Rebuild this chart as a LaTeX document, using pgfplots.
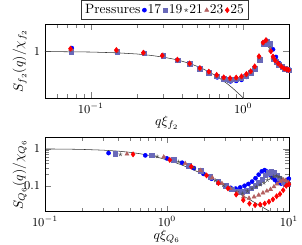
\documentclass[border=0pt]{standalone}
\usepackage{pgfplots}
\pgfplotsset{compat=1.18}
\definecolor{c17}{RGB}{0,0,255}
\definecolor{c19}{RGB}{105,105,185}
\definecolor{c21}{RGB}{80,80,80}
\definecolor{c23}{RGB}{180,95,95}
\definecolor{c25}{RGB}{255,0,0}
\pgfplotsset{
 sA/.style={only marks, mark=*, mark size=1.5pt, color=c17},
 sB/.style={only marks, mark=square*, mark size=1.7pt, color=c19},
 sC/.style={only marks, mark=star, mark size=1.5pt, color=c21},
 sD/.style={only marks, mark=triangle*, mark size=1.7pt, color=c23},
 sE/.style={only marks, mark=diamond*, mark size=1.9pt, color=c25},
}
\begin{document}
\begin{tikzpicture}
\begin{axis}[width=180.7pt, height=54.8pt, scale only axis, xmode=log, ymode=log,
  yticklabel={\pgfmathparse{exp(\tick)}\pgfmathprintnumber[fixed,precision=1]{\pgfmathresult}},
  tick label style={font=\small},
  ylabel style={at={(axis description cs:-0.055,0.5)}, anchor=south},
  xlabel style={yshift=4.5pt},
  name=top,
  xmin=0.05, xmax=2, ymin=0.5, ymax=1.5, ytick={1},
  xlabel={$q\xi_{f_2}$}, ylabel={$S_{f_2}(q)/\chi_{f_2}$},
  legend columns=-1,
  legend style={at={(0.49,1.32)}, anchor=north, inner sep=2pt, draw=black!80,
    nodes={inner sep=0.9pt},
    /tikz/every even column/.append style={column sep=0.5pt}},
  legend image code/.code={\draw[mark repeat=2,mark phase=2] plot coordinates {(0cm,0cm)(0.07cm,0cm)(0.14cm,0cm)};},
]
\addlegendimage{empty legend}\addlegendentry{Pressures}
\addplot[sA] coordinates {(0.075,1.05)(0.15,0.99)(0.225,0.975)(0.30,0.945)(0.375,0.875)(0.45,0.825)(0.525,0.77)(0.60,0.725)(0.675,0.68)(0.75,0.655)(0.825,0.64)(0.90,0.645)(0.975,0.655)(1.05,0.685)(1.125,0.72)(1.20,0.78)(1.28,0.90)(1.36,1.12)(1.43,1.17)(1.50,1.10)(1.57,1.03)(1.64,0.92)(1.72,0.84)(1.80,0.80)(1.87,0.78)(1.95,0.77)(2.0,0.765)};
\addlegendentry{17}
\addplot[sB] coordinates {(0.0745,0.99)(0.149,0.995)(0.224,0.97)(0.298,0.935)(0.373,0.875)(0.447,0.83)(0.52,0.77)(0.596,0.725)(0.67,0.69)(0.745,0.665)(0.82,0.655)(0.895,0.66)(0.97,0.67)(1.04,0.69)(1.12,0.725)(1.19,0.775)(1.29,0.88)(1.36,1.12)(1.44,1.15)(1.49,1.12)(1.58,0.89)(1.65,0.86)(1.72,0.82)(1.80,0.795)(1.87,0.775)(1.94,0.765)(2.0,0.755)};
\addlegendentry{19}
\addplot[sC] coordinates {(0.074,1.02)(0.148,1.0)(0.222,0.975)(0.296,0.94)(0.371,0.88)(0.446,0.83)(0.52,0.775)(0.595,0.73)(0.67,0.695)(0.745,0.67)(0.82,0.66)(0.897,0.665)(0.972,0.68)(1.045,0.70)(1.12,0.735)(1.19,0.79)(1.28,0.91)(1.355,1.13)(1.43,1.17)(1.50,1.05)(1.575,0.9)(1.64,0.865)(1.71,0.83)(1.79,0.80)(1.86,0.775)(1.93,0.765)(1.99,0.757)};
\addlegendentry{21}
\addplot[sD] coordinates {(0.074,1.03)(0.148,1.01)(0.222,0.978)(0.295,0.94)(0.370,0.882)(0.445,0.832)(0.52,0.778)(0.595,0.735)(0.67,0.70)(0.745,0.675)(0.82,0.665)(0.90,0.672)(0.973,0.685)(1.047,0.708)(1.12,0.74)(1.19,0.795)(1.275,0.92)(1.35,1.135)(1.42,1.18)(1.51,1.02)(1.57,0.91)(1.63,0.87)(1.70,0.83)(1.78,0.80)(1.86,0.775)(1.93,0.765)(1.99,0.758)};
\addlegendentry{23}
\addplot[sE] coordinates {(0.0735,1.04)(0.147,1.02)(0.221,0.98)(0.294,0.94)(0.370,0.885)(0.445,0.835)(0.52,0.78)(0.595,0.74)(0.67,0.705)(0.745,0.68)(0.82,0.672)(0.90,0.678)(0.975,0.69)(1.05,0.715)(1.12,0.745)(1.19,0.80)(1.27,0.93)(1.35,1.14)(1.41,1.18)(1.52,1.0)(1.57,0.926)(1.62,0.875)(1.70,0.835)(1.78,0.80)(1.86,0.775)(1.93,0.765)(1.99,0.76)};
\addlegendentry{25}
\addplot[black!80, thin, no marks] coordinates {(0.05,0.9975)(0.1,0.990)(0.15,0.978)(0.2,0.962)(0.25,0.941)(0.3,0.917)(0.35,0.891)(0.4,0.862)(0.45,0.832)(0.5,0.8)(0.55,0.768)(0.6,0.735)(0.65,0.703)(0.7,0.671)(0.75,0.64)(0.8,0.61)(0.85,0.581)(0.9,0.552)(0.95,0.526)(1.0,0.5)(1.05,0.476)};
\end{axis}
\begin{axis}[width=180.7pt, height=54.8pt, scale only axis, xmode=log, ymode=log,
  yticklabel={\pgfmathparse{exp(\tick)}\pgfmathprintnumber[fixed,precision=1]{\pgfmathresult}},
  tick label style={font=\small},
  ylabel style={at={(axis description cs:-0.055,0.5)}, anchor=south},
  xlabel style={yshift=4.5pt},
  name=bot,
  at={(top.south west)}, yshift=-29.3pt, anchor=north west,
  xmin=0.1, xmax=10, ymin=0.02, ymax=2, ytick={0.1,1},
  xlabel={$q\xi_{Q_6}$}, ylabel={$S_{Q_6}(q)/\chi_{Q_6}$},
]
\addplot[black!80, thin, no marks] coordinates {(0.1,0.990)(0.15,0.978)(0.2,0.962)(0.3,0.917)(0.4,0.862)(0.5,0.8)(0.6,0.735)(0.7,0.671)(0.8,0.61)(0.9,0.552)(1.0,0.5)(1.2,0.410)(1.4,0.338)(1.6,0.281)(1.8,0.236)(2.0,0.2)(2.3,0.159)(2.6,0.129)(3.0,0.1)(3.5,0.0755)(4.0,0.0588)(4.5,0.0471)(5,0.0385)(5.5,0.032)(6,0.027)(6.5,0.0231)(7,0.02)(7.5,0.0175)};
\addplot[sA] coordinates {(0.332,0.765)(0.664,0.663)(0.996,0.55)(1.33,0.42)(1.66,0.30)(1.99,0.21)(2.32,0.155)(2.66,0.12)(2.99,0.10)(3.32,0.088)(3.65,0.084)(3.98,0.09)(4.32,0.10)(4.65,0.112)(4.98,0.13)(5.31,0.16)(5.64,0.20)(5.98,0.245)(6.31,0.265)(6.64,0.24)(6.97,0.20)(7.30,0.17)(7.64,0.145)(7.97,0.128)(8.30,0.12)(8.63,0.115)(8.96,0.12)(9.30,0.13)(9.63,0.145)(9.96,0.155)};
\addplot[sB] coordinates {(0.377,0.72)(0.754,0.66)(1.13,0.50)(1.51,0.35)(1.89,0.25)(2.26,0.175)(2.64,0.13)(3.02,0.10)(3.39,0.08)(3.77,0.07)(4.15,0.068)(4.52,0.074)(4.90,0.085)(5.28,0.10)(5.66,0.12)(6.03,0.15)(6.41,0.19)(6.79,0.225)(7.16,0.235)(7.54,0.225)(7.92,0.19)(8.29,0.16)(8.67,0.14)(9.05,0.125)(9.42,0.115)(9.80,0.11)};
\addplot[sC] coordinates {(0.415,0.705)(0.83,0.62)(1.245,0.45)(1.66,0.31)(2.075,0.20)(2.49,0.14)(2.905,0.105)(3.32,0.085)(3.735,0.068)(4.15,0.062)(4.565,0.072)(4.98,0.085)(5.395,0.095)(5.81,0.107)(6.225,0.12)(6.64,0.143)(7.055,0.16)(7.47,0.178)(7.885,0.185)(8.30,0.175)(8.715,0.16)(9.13,0.145)(9.545,0.13)(9.96,0.12)};
\addplot[sD] coordinates {(0.47,0.72)(0.94,0.60)(1.41,0.40)(1.88,0.26)(2.35,0.165)(2.82,0.115)(3.29,0.085)(3.76,0.062)(4.23,0.05)(4.70,0.046)(5.17,0.05)(5.64,0.056)(6.11,0.064)(6.58,0.072)(7.05,0.08)(7.52,0.094)(7.99,0.112)(8.46,0.13)(8.93,0.143)(9.40,0.14)(9.87,0.125)};
\addplot[sE] coordinates {(0.527,0.705)(1.054,0.50)(1.58,0.33)(2.11,0.19)(2.635,0.118)(3.16,0.085)(3.69,0.058)(4.22,0.041)(4.74,0.033)(5.27,0.03)(5.80,0.031)(6.32,0.033)(6.85,0.037)(7.38,0.043)(7.91,0.052)(8.43,0.06)(8.96,0.076)(9.49,0.1)(9.99,0.11)};
\end{axis}
\pgfresetboundingbox
\path ([xshift=-33.3pt,yshift=17.8pt]top.north west) rectangle ([xshift=9.6pt,yshift=-24.4pt]bot.south east);
\end{tikzpicture}
\end{document}
